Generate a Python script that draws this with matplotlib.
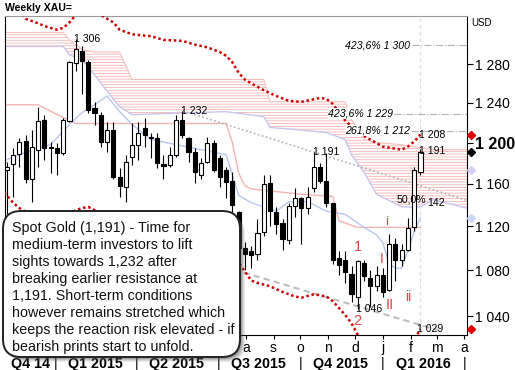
import datetime as dt

import matplotlib
matplotlib.use("Agg")
import matplotlib.pyplot as plt
import matplotlib.dates as mdates
import matplotlib.transforms as mtransforms
from matplotlib.patches import FancyBboxPatch
from matplotlib.ticker import FuncFormatter, NullLocator
import numpy as np

plt.rcParams["font.family"] = ["Liberation Sans", "DejaVu Sans"]
plt.rcParams["hatch.linewidth"] = 0.6
plt.rcParams["hatch.color"] = "#f4b4b4"

# =========================
# weekly candles (Friday closes, first week 2014-11-07)
# =========================
first_week = dt.datetime(2014, 11, 7)

opens = [1173, 1179, 1189, 1202, 1165, 1193, 1223, 1195, 1195, 1190,
         1222, 1281, 1294, 1282, 1235, 1228, 1201, 1213, 1166, 1157,
         1186, 1198, 1215, 1206, 1205, 1179, 1178, 1188, 1223, 1205,
         1191, 1168, 1181, 1200, 1185, 1173, 1163, 1133, 1100, 1097,
         1095, 1115, 1161, 1133, 1123, 1107, 1139, 1146, 1137, 1156,
         1176, 1163, 1142, 1091, 1089, 1077, 1057, 1087, 1073, 1066,
         1076, 1063, 1104, 1089, 1098, 1119, 1171]
highs = [1181, 1195, 1205, 1208, 1213, 1236, 1228, 1201, 1200, 1225,
         1283, 1307, 1299, 1285, 1241, 1231, 1221, 1221, 1175, 1188,
         1220, 1221, 1225, 1210, 1210, 1188, 1196, 1228, 1232, 1206,
         1195, 1185, 1206, 1203, 1188, 1176, 1171, 1134, 1106, 1102,
         1127, 1168, 1168, 1138, 1127, 1142, 1156, 1147, 1157, 1191,
         1180, 1190, 1142, 1097, 1097, 1084, 1089, 1089, 1080, 1084,
         1082, 1113, 1109, 1104, 1128, 1176, 1194]
lows = [1131, 1147, 1176, 1161, 1143, 1176, 1183, 1170, 1168, 1188,
        1221, 1273, 1249, 1230, 1218, 1196, 1191, 1165, 1147, 1143,
        1178, 1183, 1196, 1185, 1175, 1165, 1176, 1186, 1205, 1181,
        1161, 1165, 1180, 1171, 1157, 1146, 1131, 1095, 1080, 1082,
        1089, 1111, 1120, 1113, 1098, 1104, 1129, 1104, 1131, 1152,
        1161, 1138, 1086, 1076, 1069, 1052, 1046, 1071, 1048, 1062,
        1057, 1062, 1071, 1084, 1097, 1116, 1168]
closes = [1176, 1188, 1201, 1165, 1196, 1222, 1195, 1196, 1190, 1223,
          1282, 1296, 1283, 1233, 1230, 1201, 1213, 1166, 1158, 1181,
          1198, 1210, 1208, 1205, 1180, 1177, 1188, 1223, 1208, 1191,
          1171, 1180, 1200, 1173, 1166, 1162, 1140, 1100, 1095, 1094,
          1114, 1160, 1134, 1122, 1108, 1139, 1146, 1137, 1147, 1176,
          1163, 1142, 1089, 1085, 1079, 1059, 1088, 1075, 1066, 1076,
          1061, 1104, 1089, 1098, 1118, 1173, 1191]

# ichimoku-style cloud (week index, span values)
cloud_idx = [0, 9, 10, 12, 14, 16, 18, 20, 35, 41, 42, 46, 51, 54, 55, 57, 59, 63, 66, 68, 70, 74]
cloud_top = [1314, 1314, 1306, 1296, 1293, 1293, 1293, 1264, 1264, 1264, 1241, 1241, 1241, 1241,
             1223, 1203, 1200, 1198, 1195, 1193, 1193, 1193]
cloud_bot = [1299, 1299, 1290, 1285, 1269, 1252, 1236, 1228, 1231, 1226, 1215, 1213, 1210, 1203,
             1188, 1171, 1150, 1138, 1138, 1145, 1142, 1136]

tenkan_idx = [0, 4, 7, 10, 12, 14, 16, 18, 20, 23, 27, 31, 35, 37, 39, 43, 45, 48, 51, 54,
              57, 59, 60, 61, 62, 63, 64, 65, 66]
tenkan_val = [1183, 1193, 1198, 1218, 1230, 1238, 1247, 1231, 1218, 1203, 1198, 1193, 1188, 1149,
              1142, 1134, 1143, 1143, 1134, 1131, 1119, 1112, 1105, 1086, 1082, 1082, 1098, 1115, 1128]

kijun_idx = [0, 5, 9, 11, 35, 36, 37, 38, 39, 47, 52, 53, 56, 66]
kijun_val = [1238, 1238, 1225, 1219, 1219, 1200, 1170, 1158, 1155, 1150, 1148, 1125, 1119, 1119]

# red dotted envelope
upper_idx = [2, 3, 5, 6, 8, 9, 10, 11, 13, 15, 17, 18, 20, 23, 25, 28, 30, 32, 34, 35,
             36, 37, 38, 39, 41, 43, 45, 47, 50, 51, 52, 54, 56, 58, 60, 62, 63, 64, 65, 66]
upper_val = [1345, 1329, 1324, 1321, 1317, 1319, 1325, 1333, 1352, 1333, 1325, 1317, 1312, 1310,
             1306, 1305, 1301, 1298, 1293, 1289, 1282, 1271, 1264, 1260, 1253, 1247, 1242, 1241,
             1245, 1244, 1239, 1222, 1210, 1203, 1196, 1194, 1193, 1196, 1201, 1208]
lower_idx = [-1, 0, 1, 2, 4, 8, 12, 13, 15, 20, 25, 30, 34, 37, 38, 39, 40, 42, 44, 46,
             47, 49, 51, 52, 53, 54, 55, 56, 57, 58, 60, 62, 64, 65, 66]
lower_val = [1155, 1149, 1142, 1137, 1130, 1128, 1137, 1138, 1132, 1120, 1115, 1105, 1095, 1087,
             1079, 1071, 1069, 1066, 1061, 1057, 1056, 1059, 1057, 1053, 1047, 1041, 1034, 1024,
             1014, 1006, 1000, 1003, 1012, 1020, 1029]

# trend lines (week index, price)
trend_hi_idx = [28, 73.5]
trend_hi_val = [1232, 1144]
trend_lo_idx = [33, 69.5]
trend_lo_val = [1086, 1027]

fib_levels = [1300, 1229, 1212]
fib_labels = ["423,6% 1 300", "423,6% 1 229", "261,8% 1 212"]

edge_values = [1208, 1191, 1173, 1128, 1029]
edge_colors = ["#dd0000", "#000000", "#d4d0f2", "#c8d6f4", "#dd0000"]

y_ticks = [1040, 1080, 1120, 1160, 1200, 1240, 1280]

comment_lines = [
    "Spot Gold (1,191) - Time for",
    "medium-term investors to lift",
    "sights towards 1,232 after",
    "breaking earlier resistance at",
    "1,191. Short-term conditions",
    "however remains stretched which",
    "keeps the reaction risk elevated - if",
    "bearish prints start to unfold.",
]

x0 = mdates.date2num(first_week)


def wk(i):
    return x0 + 7 * np.asarray(i, dtype=float)


fig = plt.figure(figsize=(5.15, 3.7), dpi=100)
ax = fig.add_axes([5 / 515, 35 / 370, 462 / 515, 319 / 370])
ax.set_yscale("log")
ax.set_ylim(1024, 1332)
ax.set_xlim(mdates.date2num(dt.datetime(2014, 11, 5)), mdates.date2num(dt.datetime(2016, 4, 4)))

# cloud
cx = wk(cloud_idx)
ax.fill_between(cx, cloud_top, cloud_bot, facecolor="none", edgecolor="#f4b4b4",
                hatch="------", linewidth=0, zorder=1)
ax.plot(cx, cloud_top, color="#f6c0c0", lw=0.8, zorder=1)
ax.plot(cx, cloud_bot, color="#c8c6ee", lw=1.0, zorder=1)

ax.plot(wk(kijun_idx), kijun_val, color="#f2b4b4", lw=1.0, zorder=2)
ax.plot(wk(tenkan_idx), tenkan_val, color="#bcc6ee", lw=1.0, zorder=2)

# trend lines
ax.plot(wk(trend_hi_idx), trend_hi_val, color="#b0b0b0", lw=1.2, ls=(0, (1, 1.5)), zorder=2)
ax.plot(wk(trend_lo_idx), trend_lo_val, color="#bdbdbd", lw=1.5, ls=(0, (3, 2)), zorder=2)

# last bar marker
ax.axvline(wk(len(closes) - 1), color="#dcdcdc", lw=0.8, ls=(0, (3, 3)), zorder=1)

# candles
o = np.array(opens, dtype=float)
h = np.array(highs, dtype=float)
l = np.array(lows, dtype=float)
c = np.array(closes, dtype=float)
xc = wk(np.arange(len(o)))
up = c >= o
ax.vlines(xc, l, h, color="black", lw=0.8, zorder=3)
ax.bar(xc, np.maximum(np.abs(c - o), 0.3), width=4.6, bottom=np.minimum(o, c),
       color=np.where(up, "white", "black"), edgecolor="black", linewidth=0.8, zorder=4)

# red dotted envelope
ax.plot(wk(upper_idx), upper_val, color="#cc0000", lw=1.8, ls=(0, (1, 1.1)), zorder=5)
ax.plot(wk(lower_idx), lower_val, color="#cc0000", lw=1.8, ls=(0, (1, 1.1)), zorder=5)

# fib levels
ytrans = mtransforms.blended_transform_factory(ax.transAxes, ax.transData)
fib_start = [0.881, 0.842, 0.878]
fib_text_x = [0.877, 0.840, 0.877]
for lev, lab, xs, xt in zip(fib_levels, fib_labels, fib_start, fib_text_x):
    ax.axhline(lev, xmin=xs, xmax=1, color="#b4b4b4", lw=0.8, ls="-.", zorder=2)
    ax.text(xt, lev, lab, transform=ytrans, ha="right", va="center", fontsize=7.6,
            style="italic", zorder=6,
            bbox=dict(facecolor="white", edgecolor="none", pad=0.3))


def note(i, price, text, dx=-1.0, **kw):
    ax.annotate(text, xy=(wk(i), price), xytext=(dx, 0), textcoords="offset points",
                ha="left", va="center", fontsize=7.6, zorder=6, **kw)


note(11, 1307, "1 306")
note(28, 1232, "1 232")
note(49, 1191, "1 191")
note(56, 1046, "1 046")
note(66, 1208, "1 208")
note(66, 1192, "1 191")
note(66, 1029, "1 029", dx=-2.5)
ax.annotate("50,0%", xy=(wk(66), 1145), xytext=(4.5, 0), textcoords="offset points",
            ha="right", va="center", fontsize=7.6, zorder=6)
ax.annotate("142", xy=(wk(66), 1142), xytext=(5, 0), textcoords="offset points",
            ha="left", va="center", fontsize=7.6, zorder=6)

# wave counts
wave_red = "#d84848"
for i, price, txt, fs in [(56, 1101, "1", 10.5), (56, 1036, "2", 10.5), (60.6, 1124, "i", 9.5),
                          (59.8, 1090, "I", 10), (61.1, 1050, "II", 10.5), (64, 1057, "ii", 10)]:
    ax.text(wk(i), price, txt, color=wave_red, fontsize=fs, ha="center", va="center", zorder=6)

# right side value markers
for v, col in zip(edge_values, edge_colors):
    ax.plot([1.0095], [v], marker="D", ms=4, color=col, transform=ytrans,
            clip_on=False, ls="none", zorder=7)

# axes styling
for side in ["left", "right", "bottom"]:
    ax.spines[side].set_color("black")
    ax.spines[side].set_linewidth(0.8)
ax.spines["top"].set_color("#9a9a9a")
ax.spines["top"].set_linewidth(0.8)

ax.yaxis.tick_right()
ax.set_yticks(y_ticks)
ax.set_yticklabels([f"{v // 1000} {v % 1000:03d}" for v in y_ticks])
ax.yaxis.set_minor_locator(NullLocator())
ax.tick_params(axis="y", direction="out", length=4, width=0.8, pad=1.5, labelsize=10)
for lbl in ax.get_yticklabels():
    if lbl.get_text() == "1 200":
        lbl.set_fontweight("bold")
        lbl.set_fontsize(11.5)

# month letters; the ones under the comment box are not shown in the source
hidden_before = mdates.date2num(dt.datetime(2015, 7, 15))


def month_letter(v, p):
    if v < hidden_before:
        return ""
    return mdates.num2date(v).strftime("%b")[0].lower()


ax.xaxis.set_major_locator(mdates.MonthLocator())
ax.xaxis.set_major_formatter(FuncFormatter(month_letter))
ax.tick_params(axis="x", direction="out", length=3, width=0.8, pad=1.5, labelsize=10)

# quarter row
qtrans = mtransforms.blended_transform_factory(ax.transData, ax.transAxes)
quarter_starts = [dt.datetime(2015, 1, 1), dt.datetime(2015, 4, 1), dt.datetime(2015, 7, 1),
                  dt.datetime(2015, 10, 1), dt.datetime(2016, 1, 1), dt.datetime(2016, 4, 1)]
quarter_mids = [dt.datetime(2014, 12, 3), dt.datetime(2015, 2, 14), dt.datetime(2015, 5, 16),
                dt.datetime(2015, 8, 15), dt.datetime(2015, 11, 15), dt.datetime(2016, 2, 15)]
quarter_names = ["Q4 14", "Q1 2015", "Q2 2015", "Q3 2015", "Q4 2015", "Q1 2016"]
for d in quarter_starts:
    ax.text(mdates.date2num(d), -0.092, "|", transform=qtrans, ha="center", va="center",
            fontsize=10)
for d, name in zip(quarter_mids, quarter_names):
    ax.text(mdates.date2num(d), -0.092, name, transform=qtrans, ha="center", va="center",
            fontsize=10.3, fontweight="bold")

# overlay in pixel space for header and comment box
ov = fig.add_axes([0, 0, 1, 1], zorder=10)
ov.set_xlim(0, 515)
ov.set_ylim(370, 0)
ov.axis("off")
ov.patch.set_alpha(0)

ov.text(5, 8, "Weekly XAU=", fontsize=7.6, fontweight="bold", va="center", ha="left")
ov.text(471, 23, "USD", fontsize=7, va="center", ha="left")

for k, a in zip(range(5, 0, -1), [0.10, 0.14, 0.18, 0.24, 0.30]):
    ov.add_patch(FancyBboxPatch((3 + k, 211 + k), 237, 146,
                                boxstyle="round,pad=0,rounding_size=18",
                                facecolor="#555555", edgecolor="none", alpha=a))
ov.add_patch(FancyBboxPatch((3, 211), 237, 146, boxstyle="round,pad=0,rounding_size=18",
                            facecolor="white", edgecolor="#222222", linewidth=1.4))
for i, line in enumerate(comment_lines):
    ov.text(12, 228 + 17 * i, line, fontsize=10.3, va="center", ha="left", color="#111111")

fig.savefig("out.png", dpi=100)
